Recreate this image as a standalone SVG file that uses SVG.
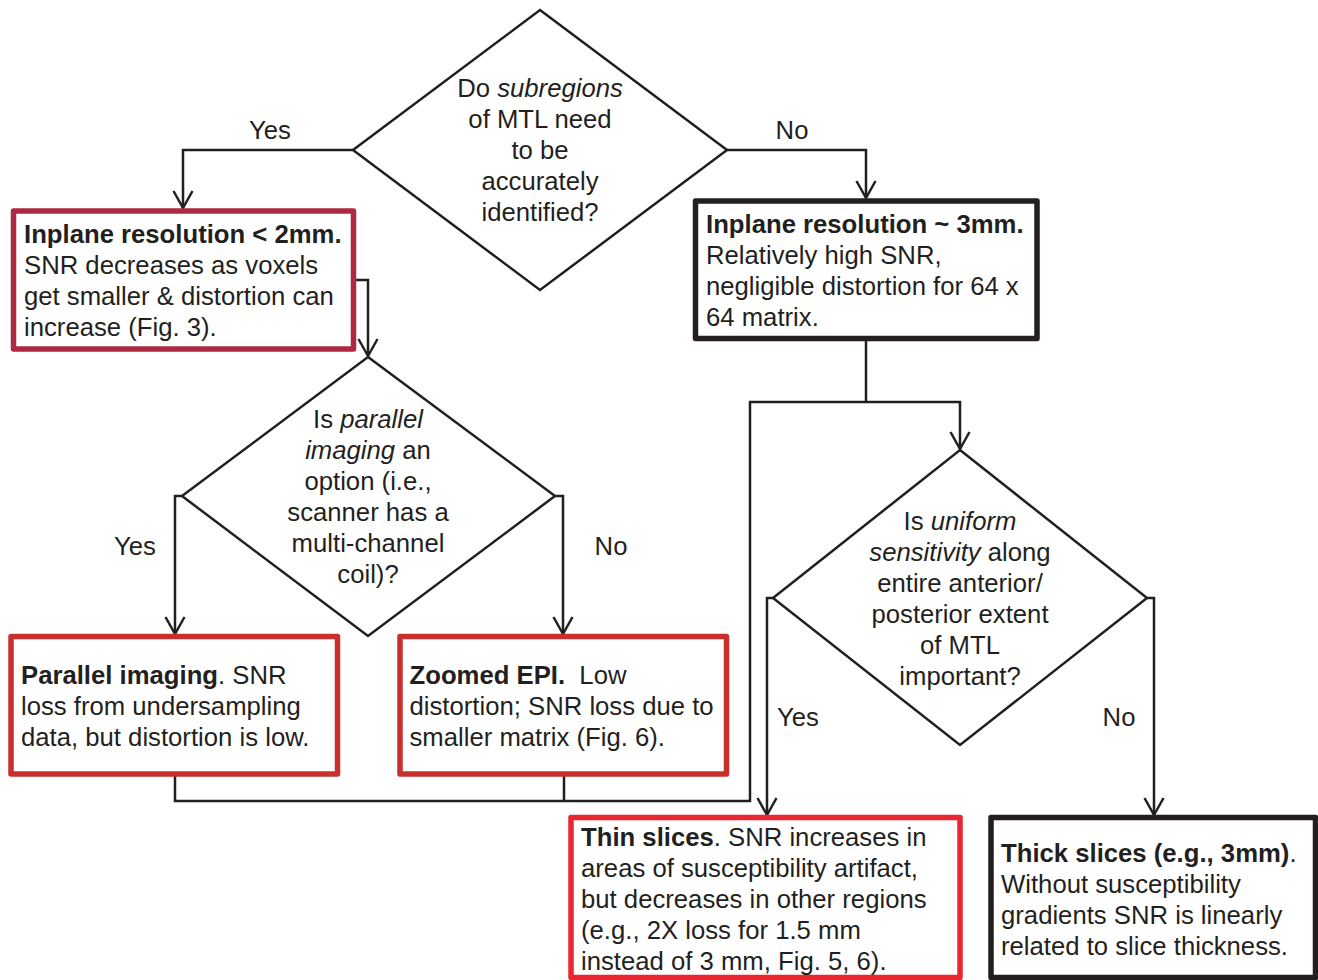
<svg xmlns="http://www.w3.org/2000/svg" width="1318" height="980" viewBox="0 0 1318 980">
<style>
text{font-family:"Liberation Sans",Arial,sans-serif;font-size:25.7px;fill:#231f20}
.c{text-anchor:middle}
.b{font-weight:bold}
.i{font-style:italic}
.dia{fill:#fff;stroke:#231f20;stroke-width:2.5;stroke-linejoin:miter}
.box{fill:#fff;stroke-width:5.5;stroke-linejoin:round}
.k{stroke:#231f20}
.r1{stroke:#ac2941}
.r2{stroke:#c8302e}
.r3{stroke:#ea262e}
.conn path{fill:none;stroke:#231f20;stroke-width:2.5}
</style>
<defs>
<marker id="ah" markerUnits="userSpaceOnUse" markerWidth="24" markerHeight="24" viewBox="-20 -12 22 24" refX="0" refY="0" orient="auto" overflow="visible">
<path d="M-17,-9.5 L0,0 L-17,9.5" fill="none" stroke="#231f20" stroke-width="2.5"/>
</marker>
</defs>
<rect width="1318" height="980" fill="#fff"/>
<g id="connectors" class="conn">
<path d="M353,150 H183 V208" marker-end="url(#ah)"/>
<path d="M727,150 H866 V198" marker-end="url(#ah)"/>
<path d="M355,280 H368 V356" marker-end="url(#ah)"/>
<path d="M182,496 H175 V634" marker-end="url(#ah)"/>
<path d="M555,496 H563 V634" marker-end="url(#ah)"/>
<path d="M175,776 V801 H750 V402 H960 V449" marker-end="url(#ah)"/>
<path d="M564,776 V801"/>
<path d="M866,341 V402"/>
<path d="M773,598 H767 V815" marker-end="url(#ah)"/>
<path d="M1147,598 H1154 V815" marker-end="url(#ah)"/>
</g>
<g id="labels">
<text class="c" x="270" y="139">Yes</text>
<text class="c" x="792" y="139">No</text>
<text class="c" x="135" y="555">Yes</text>
<text class="c" x="611" y="555">No</text>
<text class="c" x="798" y="726">Yes</text>
<text class="c" x="1119" y="726">No</text>
</g>
<g id="q1">
<polygon class="dia" points="540,10 727,150 540,290 353,150"/>
<text class="c" x="540" y="97">Do <tspan class="i">subregions</tspan></text>
<text class="c" x="540" y="128">of MTL need</text>
<text class="c" x="540" y="159">to be</text>
<text class="c" x="540" y="190">accurately</text>
<text class="c" x="540" y="221">identified?</text>
</g>
<g id="inplane2">
<rect class="box r1" x="13.5" y="211" width="340" height="138"/>
<text x="24" y="243"><tspan class="b">Inplane resolution &lt; 2mm.</tspan></text>
<text x="24" y="274">SNR decreases as voxels</text>
<text x="24" y="305">get smaller &amp; distortion can</text>
<text x="24" y="336">increase (Fig. 3).</text>
</g>
<g id="inplane3">
<rect class="box k" x="695.5" y="201" width="341.5" height="137.5"/>
<text x="706" y="233"><tspan class="b">Inplane resolution ~ 3mm.</tspan></text>
<text x="706" y="264">Relatively high SNR,</text>
<text x="706" y="295">negligible distortion for 64 x</text>
<text x="706" y="326">64 matrix.</text>
</g>
<g id="q2">
<polygon class="dia" points="368,357 555,496 368,636 182,496"/>
<text class="c" x="368" y="428">Is <tspan class="i">parallel</tspan></text>
<text class="c" x="368" y="459"><tspan class="i">imaging</tspan> an</text>
<text class="c" x="368" y="490">option (i.e.,</text>
<text class="c" x="368" y="521">scanner has a</text>
<text class="c" x="368" y="552">multi-channel</text>
<text class="c" x="368" y="583">coil)?</text>
</g>
<g id="parallel">
<rect class="box r2" x="11" y="636.5" width="326.5" height="137.5"/>
<text x="21" y="684"><tspan class="b">Parallel imaging</tspan>. SNR</text>
<text x="21" y="715">loss from undersampling</text>
<text x="21" y="746">data, but distortion is low.</text>
</g>
<g id="zoomed">
<rect class="box r2" x="400" y="636.5" width="326.5" height="137.5"/>
<text x="409.5" y="684"><tspan class="b">Zoomed EPI.</tspan>&#160; Low</text>
<text x="409.5" y="715">distortion; SNR loss due to</text>
<text x="409.5" y="746">smaller matrix (Fig. 6).</text>
</g>
<g id="q3">
<polygon class="dia" points="960,450 1147,598 960,745 773,598"/>
<text class="c" x="960" y="530">Is <tspan class="i">uniform</tspan></text>
<text class="c" x="960" y="561"><tspan class="i">sensitivity</tspan> along</text>
<text class="c" x="960" y="592">entire anterior/</text>
<text class="c" x="960" y="623">posterior extent</text>
<text class="c" x="960" y="654">of MTL</text>
<text class="c" x="960" y="685">important?</text>
</g>
<g id="thin">
<rect class="box r3" x="571" y="817.5" width="389" height="160"/>
<text x="581" y="846"><tspan class="b">Thin slices</tspan>. SNR increases in</text>
<text x="581" y="877">areas of susceptibility artifact,</text>
<text x="581" y="908">but decreases in other regions</text>
<text x="581" y="939">(e.g., 2X loss for 1.5 mm</text>
<text x="581" y="970">instead of 3 mm, Fig. 5, 6).</text>
</g>
<g id="thick">
<rect class="box k" x="991" y="817.5" width="324.5" height="160"/>
<text x="1001" y="862"><tspan class="b">Thick slices (e.g., 3mm)</tspan>.</text>
<text x="1001" y="893">Without susceptibility</text>
<text x="1001" y="924">gradients SNR is linearly</text>
<text x="1001" y="955">related to slice thickness.</text>
</g>
</svg>
